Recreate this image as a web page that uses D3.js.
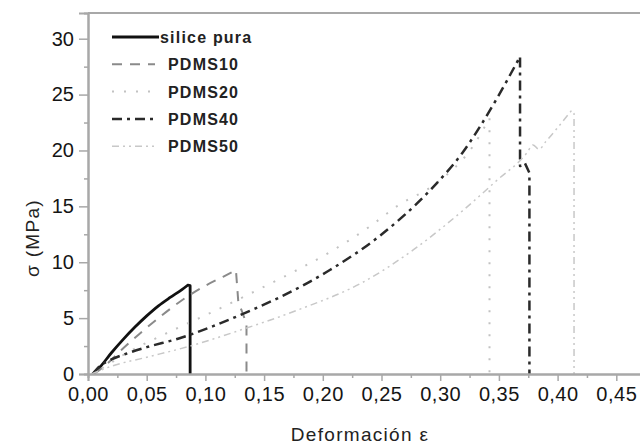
<!DOCTYPE html>
<html><head><meta charset="utf-8">
<script src="https://cdn.jsdelivr.net/npm/d3@7"></script>
<style>body{margin:0;background:#fff}svg{display:block}</style>
</head><body><svg id="c" width="640" height="445"></svg>
<script>
const xTicks = [0,0.05,0.10,0.15,0.20,0.25,0.30,0.35,0.40,0.45];
const yTicks = [0,5,10,15,20,25,30];
const seriesNames = ["silice pura","PDMS10","PDMS20","PDMS40","PDMS50"];
const silice = [[0.004,0],[0.01,0.6],[0.02,1.9],[0.03,3.1],[0.04,4.2],[0.05,5.2],[0.06,6.1],[0.07,6.85],[0.08,7.55],[0.085,7.95],[0.087,7.9],[0.087,0]];
const pdms10 = [[0.005,0],[0.015,0.8],[0.03,2.3],[0.045,3.7],[0.06,5.0],[0.08,6.6],[0.1,7.9],[0.115,8.7],[0.126,9.3],[0.128,6.5],[0.135,4.5],[0.135,0]];
const pdms20 = [[0.003,0],[0.015,0.7],[0.03,1.7],[0.064,3.5],[0.107,5.6],[0.146,7.6],[0.178,9.3],[0.206,10.9],[0.24,13.2],[0.263,15.0],[0.297,17.1],[0.328,20.4],[0.342,22.9],[0.342,0]];
const pdms40 = [[0.004,0],[0.01,0.7],[0.02,1.3],[0.035,1.9],[0.05,2.4],[0.078,3.2],[0.107,4.3],[0.141,5.8],[0.164,6.9],[0.206,9.3],[0.249,12.4],[0.291,16.4],[0.319,19.8],[0.348,24.6],[0.368,28.4],[0.368,18.6],[0.372,18.9],[0.376,18.0],[0.376,0]];
const pdms50 = [[0.003,0],[0.02,0.7],[0.05,1.5],[0.087,2.5],[0.129,3.9],[0.178,5.7],[0.234,8.2],[0.277,11.1],[0.319,14.6],[0.348,17.3],[0.374,19.8],[0.379,20.5],[0.384,20.1],[0.39,20.8],[0.412,23.6],[0.414,23.3],[0.414,0]];

const svg = d3.select("#c");
const x = d3.scaleLinear().domain([0,0.5]).range([88,675]);
const y = d3.scaleLinear().domain([0,32.3]).range([374,13]);
const axisCol = "#a8a8a8";
const font = "Liberation Sans, Arial, sans-serif";
const fmt = d => d3.format(".2f")(d).replace(".", ",");

const styles = [
  {data:silice, color:"#111", width:2.8, dash:null},
  {data:pdms10, color:"#8a8a8a", width:2, dash:"10,8"},
  {data:pdms20, color:"#c2c2c2", width:2, dash:"2,10"},
  {data:pdms40, color:"#2a2a2a", width:2.5, dash:"10,5,3,5"},
  {data:pdms50, color:"#c8c8c8", width:1.5, dash:"7,4,2,4,2,4"}
];

const smooth = d3.line().x(d=>x(d[0])).y(d=>y(d[1])).curve(d3.curveMonotoneX);
const straight = d3.line().x(d=>x(d[0])).y(d=>y(d[1]));
styles.forEach(s=>{
  const pk = d3.maxIndex(s.data, d=>d[1]);
  const d = smooth(s.data.slice(0,pk+1)) + straight(s.data.slice(pk)).replace(/^M[^L]*/, "");
  svg.append("path").attr("d", d).attr("fill","none")
    .attr("stroke", s.color).attr("stroke-width", s.width)
    .attr("stroke-dasharray", s.dash).attr("stroke-linejoin","round");
});

// axes
const gx = svg.append("g").attr("transform",`translate(0,${y(0)})`)
  .call(d3.axisBottom(x).tickValues(xTicks).tickFormat(fmt).tickSize(7).tickPadding(6));
const gxm = svg.append("g").attr("transform",`translate(0,${y(0)})`)
  .call(d3.axisBottom(x).tickValues(d3.range(0.025,0.5,0.05)).tickFormat("").tickSize(4));
const gy = svg.append("g").attr("transform",`translate(${x(0)},0)`)
  .call(d3.axisLeft(y).tickValues(yTicks).tickSize(9).tickPadding(5));
const gym = svg.append("g").attr("transform",`translate(${x(0)},0)`)
  .call(d3.axisLeft(y).tickValues(d3.range(2.5,32,5)).tickFormat("").tickSize(4));
[gx,gxm,gy,gym].forEach(g=>{
  g.select(".domain").attr("stroke",axisCol).attr("stroke-width",2);
  g.selectAll(".tick line").attr("stroke",axisCol).attr("stroke-width",1.5);
  g.selectAll("text").attr("fill","#151515").style("font-family",font).style("font-size","20px");
});
gx.selectAll("text").style("letter-spacing","0.5px");
// top frame
svg.append("line").attr("x1",x(0)).attr("x2",x(0.5)).attr("y1",y(32.3)).attr("y2",y(32.3))
  .attr("stroke",axisCol).attr("stroke-width",2);

// titles
svg.append("text").attr("x",360).attr("y",441).attr("text-anchor","middle")
  .style("font-family",font).style("font-size","19px").style("letter-spacing","1.3px").attr("fill","#222")
  .text("Deformación ε");
svg.append("text").attr("transform","translate(39,238) rotate(-90)").attr("text-anchor","middle")
  .style("font-family",font).style("font-size","19px").style("letter-spacing","1.3px").attr("fill","#222")
  .text("σ (MPa)");

// legend
const lg = svg.append("g");
styles.forEach((s,i)=>{
  const yy = 37 + i*27.3;
  lg.append("line").attr("x1",112).attr("x2",i===0?159:155).attr("y1",yy).attr("y2",yy)
    .attr("stroke",s.color).attr("stroke-width",s.width).attr("stroke-dasharray",s.dash);
  lg.append("text").attr("x",i===0?160:168).attr("y",yy+6)
    .style("font-family",font).style("font-size","16px")
    .style("font-weight","bold").style("letter-spacing","1.2px").attr("fill","#222")
    .text(seriesNames[i]);
});
</script></body></html>
